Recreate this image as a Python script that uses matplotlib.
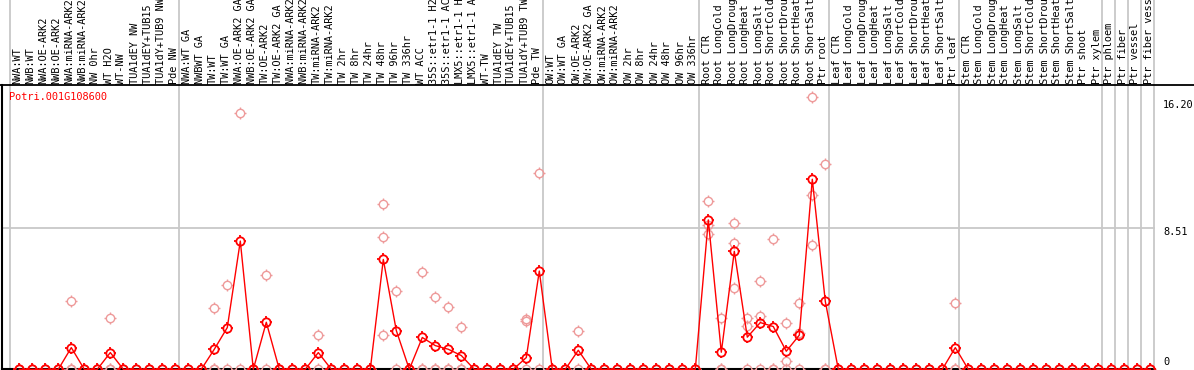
import matplotlib
matplotlib.use("Agg")
import matplotlib.pyplot as plt
from matplotlib.path import Path
import numpy as np

# sample labels, left to right
labels = [
    "NWA:WT", "NWB:WT", "NWA:OE-ARK2", "NWB:OE-ARK2", "NWA:miRNA-ARK2",
    "NWB:miRNA-ARK2", "NW 0hr", "WT H2O", "WT-NW", "TUA1dEY NW",
    "TUA1dEY+TUB15 NW", "TUA1dY+TUB9 NW", "Pde NW",
    "NWA:WT GA", "NWBWT GA", "TW:WT", "TW:WT GA", "NWA:OE-ARK2 GA",
    "NWB:OE-ARK2 GA", "TW:OE-ARK2", "TW:OE-ARK2 GA", "NWA:miRNA-ARK2 GA",
    "NWB:miRNA-ARK2 GA", "TW:miRNA-ARK2", "TW:miRNA-ARK2 GA", "TW 2hr",
    "TW 8hr", "TW 24hr", "TW 48hr", "TW 96hr", "TW 336hr", "WT ACC",
    "35S::etr1-1 H2O", "35S::etr1-1 ACC", "LMX5::etr1-1 H2O",
    "LMX5::etr1-1 ACC", "WT-TW", "TUA1dEY TW", "TUA1dEY+TUB15 TW",
    "TUA1dY+TUB9 TW", "Pde TW",
    "OW:WT", "OW:WT GA", "OW:OE-ARK2", "OW:OE-ARK2 GA", "OW:miRNA-ARK2",
    "OW:miRNA-ARK2 GA", "OW 2hr", "OW 8hr", "OW 24hr", "OW 48hr", "OW 96hr",
    "OW 336hr",
    "Root CTR", "Root LongCold", "Root LongDrought", "Root LongHeat",
    "Root LongSalt", "Root ShortCold", "Root ShortDrought", "Root ShortHeat",
    "Root ShortSalt", "Ptr root",
    "Leaf CTR", "Leaf LongCold", "Leaf LongDrought", "Leaf LongHeat",
    "Leaf LongSalt", "Leaf ShortCold", "Leaf ShortDrought", "Leaf ShortHeat",
    "Leaf ShortSalt", "Ptr leaf",
    "Stem CTR", "Stem LongCold", "Stem LongDrought", "Stem LongHeat",
    "Stem LongSalt", "Stem ShortCold", "Stem ShortDrought", "Stem ShortHeat",
    "Stem ShortSalt", "Ptr shoot", "Ptr xylem",
    "Ptr phloem", "Ptr fiber", "Ptr vessel", "Ptr fiber vessel",
]

# mean expression per sample
means = [
    0, 0, 0, 0, 1.31, 0, 0, 1.01, 0, 0, 0, 0, 0,
    0, 0, 1.21, 2.52, 7.74, 0, 2.84, 0, 0, 0, 1.01, 0, 0, 0, 0, 6.63,
    2.34, 0, 1.92, 1.43, 1.21, 0.83, 0, 0, 0, 0, 0.71, 5.93,
    0, 0, 1.15, 0, 0, 0, 0, 0, 0, 0, 0, 0,
    9.01, 1.03, 7.12, 1.94, 2.82, 2.58, 1.09, 2.06, 11.47, 4.10,
    0, 0, 0, 0, 0, 0, 0, 0, 0, 1.31,
    0, 0, 0, 0, 0, 0, 0, 0, 0, 0, 0,
    0, 0, 0, 0,
]

# replicate values (samples not listed have replicates at 0)
replicates = {
    "NWA:miRNA-ARK2": [4.11, 0, 0],
    "WT H2O": [3.07, 0, 0],
    "TW:WT": [3.67, 0, 0],
    "TW:WT GA": [5.06, 0],
    "NWA:OE-ARK2 GA": [15.48, 0],
    "TW:OE-ARK2": [5.67, 0],
    "TW:miRNA-ARK2": [2.06, 0],
    "TW 48hr": [9.98, 7.99, 2.07],
    "TW 96hr": [4.72, 0],
    "WT ACC": [5.85, 0, 0],
    "35S::etr1-1 H2O": [4.36, 0, 0],
    "35S::etr1-1 ACC": [3.73, 0, 0],
    "LMX5::etr1-1 H2O": [2.58, 0, 0],
    "TUA1dY+TUB9 TW": [3.02, 2.90, 0],
    "Pde TW": [11.85, 0],
    "OW:OE-ARK2": [2.30, 0],
    "Root CTR": [10.16, 8.71, 8.17],
    "Root LongCold": [3.07, 0, 0],
    "Root LongDrought": [8.81, 7.60, 4.88],
    "Root LongHeat": [3.07, 2.62, 0],
    "Root LongSalt": [5.30, 3.21, 0],
    "Root ShortCold": [7.85, 0, 0],
    "Root ShortDrought": [2.82, 0.52, 0],
    "Root ShortHeat": [4.03, 2.22, 0],
    "Root ShortSalt": [16.45, 10.53, 7.48],
    "Ptr root": [12.38, 0, 0],
    "Ptr leaf": [4.03, 0, 0],
}

# sample counts where a group separator goes
group_breaks = [0, 13, 41, 53, 63, 73, 84, 85, 86, 87, 88]
gene_name = "Potri.001G108600"
max_label = "16.20"
mid_value = 8.51

W, H = 1194, 370
plt.rcParams['font.family'] = ['DejaVu Sans Mono']
plt.rcParams['path.simplify'] = False
fig = plt.figure(figsize=(W / 100, H / 100), dpi=100)
ax = fig.add_axes([0, 0, 1, 1])
ax.set_axis_off()

# pixel -> data helpers for placing frame and text
x0, dx = 19.3, 13.0
y0, dy = 369.3, 16.57
px = lambda p: (p - x0) / dx
py = lambda p: (y0 - p) / dy
ax.set_xlim(px(0), px(W))
ax.set_ylim(py(H), py(0))

gray = "#c8c8c8"
right = group_breaks[-1] - 0.677
for b in group_breaks:
    ax.plot([b - 0.677, b - 0.677], [0, py(0)], color=gray, lw=1.3, zorder=1)
ax.plot([px(1.5), right], [mid_value, mid_value], color=gray, lw=1.3, zorder=1)
ax.plot([px(0), px(W)], [py(85), py(85)], color="black", lw=1.3, zorder=2)
ax.plot([px(1.5), px(1.5)], [0, py(85)], color="black", lw=1.5, zorder=2)
ax.plot([px(1.5), right], [0, 0], color="black", lw=1.5, zorder=2)

# marker: open circle plus four short ticks outside it
ticks = Path([(0, 1), (0, 1.5), (0, -1), (0, -1.5), (1, 0), (1.5, 0), (-1, 0), (-1.5, 0)],
             [Path.MOVETO, Path.LINETO] * 4)
circle_ms = 6.0
tick_ms = circle_ms * 1.5


def draw_marks(xs, ys, color, mew, z):
    ax.plot(xs, ys, linestyle="none", marker="o", ms=circle_ms, mfc="none",
            mec=color, mew=mew, zorder=z)
    ax.plot(xs, ys, linestyle="none", marker=ticks, ms=tick_ms, mfc="none",
            mec=color, mew=mew, zorder=z)


x = np.arange(len(labels))
for i, name in enumerate(labels):
    vals = replicates.get(name, [0, 0])
    draw_marks([i] * len(vals), vals, "#ee9a9a", 1.0, 3)
ax.plot(x, means, color="#ff0000", lw=1.0, zorder=4)
draw_marks(x, means, "#ff0000", 1.3, 5)

for i, name in enumerate(labels):
    ax.text(i + px(17.5) - px(19.3), py(83.5), name, rotation=90,
            ha="center", va="bottom", fontsize=7.4, color="black", zorder=6)

ax.text(px(9), py(97), gene_name, ha="left", va="center", fontsize=7.4, color="#ff0000")
ax.text(px(1163), py(105), max_label, ha="left", va="center", fontsize=7.4)
ax.text(px(1163), py(231.7), "%.2f" % mid_value, ha="left", va="center", fontsize=7.4)
ax.text(px(1163), py(361.7), "0", ha="left", va="center", fontsize=7.4)

fig.savefig("out.png", dpi=100)
